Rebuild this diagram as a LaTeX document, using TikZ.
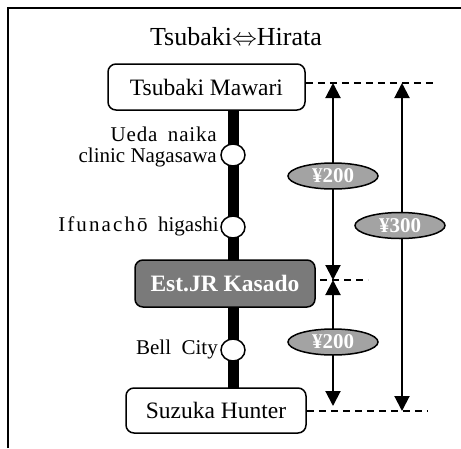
\documentclass[tikz,border=0pt]{standalone}
\usepackage{fontspec}
\setmainfont{Liberation Serif}
\usetikzlibrary{arrows.meta,shapes.geometric}
\begin{document}
\begin{tikzpicture}[x=1pt,y=-1pt,
  stopbox/.style={draw=black, line width=1.5pt, rounded corners=8pt, fill=white,
    inner sep=0pt, font=\fontsize{23.5}{26}\selectfont},
  hubbox/.style={stopbox, fill=hubgray, text=white, font=\fontsize{23.5}{26}\selectfont\bfseries},
  halt/.style={draw=black, line width=1.5pt, fill=white, ellipse, inner sep=0pt,
    minimum width=24pt, minimum height=22pt},
  sidelabel/.style={inner sep=0pt, align=right, font=\fontsize{21}{22}\selectfont},
  fare/.style={draw=black, line width=1.5pt, fill=faregray, ellipse, inner sep=0pt,
    minimum width=90pt, minimum height=26pt, text=white, font=\fontsize{21}{22}\selectfont\bfseries},
  farearrow/.style={line width=2pt, {Triangle[width=15pt,length=15pt]}-{Triangle[width=15pt,length=15pt]}},
  guide/.style={line width=1.5pt, dash pattern=on 7pt off 5pt},
  track/.style={line width=11pt}
]
\definecolor{hubgray}{HTML}{7A7A7A}
\definecolor{faregray}{HTML}{A3A3A3}
\useasboundingbox (0,0) rectangle (461,448);
\draw[line width=2pt] (8,448) -- (8,8) -- (461,8);

\node[anchor=base, inner sep=0pt, font=\fontsize{26}{28}\selectfont] (title) at (236,45) {Tsubaki$\Leftrightarrow$Hirata};

% track
\coordinate (trtop) at (233,110);
\coordinate (trbot) at (233,388);
\draw[track] (trtop) -- (trbot);

\node[stopbox, minimum width=197pt, minimum height=46pt] (tm) at (206.5,87) {Tsubaki Mawari};
\node[hubbox, minimum width=180pt, minimum height=47pt] (jr) at (225,283.5) {Est.JR Kasado};
\node[stopbox, minimum width=180pt, minimum height=45pt] (sh) at (216,410.5) {Suzuka Hunter};

\node[halt] (c1) at (233,155) {};
\node[halt] (c2) at (233,227) {};
\node[halt] (c3) at (233,350) {};

\node[sidelabel, anchor=east] (l1) at (217,147) {{\addfontfeature{LetterSpace=4}Ueda}\ \ {\addfontfeature{LetterSpace=4}naika}\\[-1pt]clinic Nagasawa};
\node[sidelabel, anchor=east] (l2) at (219,226) {{\addfontfeature{LetterSpace=10}Ifunach\=o}\ \ higashi};
\node[sidelabel, anchor=east] (l3) at (218,349) {Bell\ \ City};

% guide lines
\coordinate (gt) at (437,83);
\coordinate (gm0) at (320,280);
\coordinate (gm) at (368,280);
\coordinate (gb) at (428,411);
\draw[guide] (tm.east |- gt) -- (gt);
\draw[guide] (gm0) -- (gm);
\draw[guide] (sh.east |- gb) -- (gb);

% fare arrows
\coordinate (a1t) at (333,83);
\coordinate (a1b) at (333,280);
\coordinate (a2t) at (333,280);
\coordinate (a2b) at (333,406);
\coordinate (a3t) at (402,83);
\coordinate (a3b) at (402,411);
\draw[farearrow] (a1t) -- (a1b);
\draw[farearrow] (a2t) -- (a2b);
\draw[farearrow] (a3t) -- (a3b);

\node[fare] (f1) at (333,176) {¥200};
\node[fare] (f2) at (400,225.5) {¥300};
\node[fare] (f3) at (333,342) {¥200};
\end{tikzpicture}
\end{document}
